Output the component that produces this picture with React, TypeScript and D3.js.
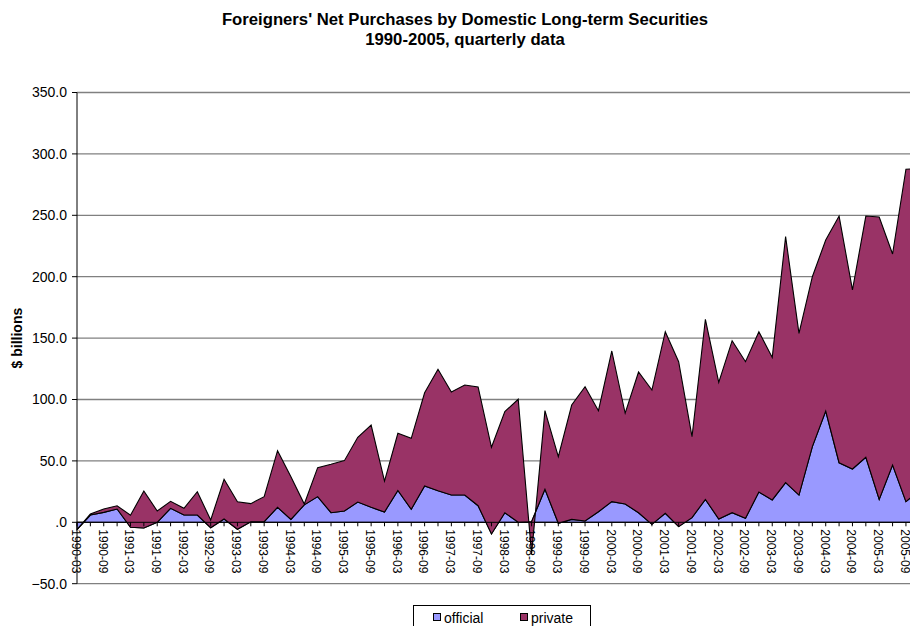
import React, { useRef, useEffect } from "react";
import * as d3 from "d3";

const WIDTH = 910;
const HEIGHT = 626;

// categories
const YEARS = [1990, 1991, 1992, 1993, 1994, 1995, 1996, 1997, 1998, 1999, 2000, 2001, 2002, 2003, 2004, 2005];
const MONTHS = ["03", "06", "09", "12"];
const QUARTERS = YEARS.flatMap((y) => MONTHS.map((m) => `${y}-${m}`));

// $ billions
const OFFICIAL = [
  -6, 5.9, 8.1, 10.8, -4.1, -4.6, 0, 11.4, 5.9, 5.9,
  -4.4, 2.7, -5.7, 0.5, 0.5, 12.2, 2.4, 14.2, 20.9, 7.8,
  9.2, 16.5, 12.2, 8.4, 26, 10.6, 29.6, 25.7, 22.2, 22.2,
  13.5, -9.5, 7.8, 0, 0.5, 26.9, -0.8, 2.4, 1.1, 8.6,
  16.8, 14.9, 7.8, -1.7, 7.3, -3.5, 3.8, 18.7, 2.7, 7.8,
  3.3, 24.7, 18.2, 32.3, 22.2, 61.6, 90.6, 48.5, 43.4, 52.9,
  18.7, 46.7, 16.8, 26,
];
const PRIVATE = [
  0, 0.9, 2.7, 2.7, 9.8, 30.1, 9.2, 5.7, 5.5, 19.0,
  6.3, 32.3, 22.5, 14.7, 20.4, 46.1, 34.7, 0.7, 23.6, 39.4,
  41.0, 52.7, 67.0, 25.2, 46.5, 57.8, 75.9, 98.9, 83.9, 89.6,
  96.7, 70.6, 82.3, 100.2, -26.3, 64.0, 54.2, 93.1, 109.3, 82.3,
  122.7, 73.9, 114.6, 109.4, 147.9, 134.3, 65.9, 146.6, 111.3, 140.1,
  127.5, 130.5, 116.1, 200.3, 131.7, 138.4, 139.3, 200.9, 145.8, 196.5,
  229.9, 171.8, 270.7, 262.0,
];

const SERIES = ["official", "private"];
const COLORS = ["#9999FF", "#993366"];
const Y_TICKS = [-50, 0, 50, 100, 150, 200, 250, 300, 350];

const FONT = "'Liberation Sans', Arial, sans-serif";

export default function App() {
  const svgRef = useRef<SVGSVGElement>(null);

  useEffect(() => {
    document.body.style.margin = "0";
    const svg = d3.select(svgRef.current);
    svg.selectAll("*").remove();

    const left = 77;
    const step = 13.37;
    const x = d3
      .scalePoint<string>()
      .domain(QUARTERS)
      .range([left, left + step * (QUARTERS.length - 1)]);
    const y = d3.scaleLinear().domain([-50, 350]).range([583.7, 92.5]);
    const right = left + step * (QUARTERS.length - 1);

    const rows = QUARTERS.map((q, i) => ({ q, official: OFFICIAL[i], private: PRIVATE[i] }));
    const stacked = d3.stack<any>().keys(SERIES)(rows);

    svg.attr("width", WIDTH).attr("height", HEIGHT).style("font-family", FONT);
    svg.append("rect").attr("width", WIDTH).attr("height", HEIGHT).attr("fill", "#fff");

    // Title
    const title = svg
      .append("text")
      .attr("text-anchor", "middle")
      .attr("font-weight", "bold")
      .attr("font-size", 16.7);
    title.append("tspan").attr("x", 465).attr("y", 25).text("Foreigners' Net Purchases by Domestic Long-term Securities");
    title.append("tspan").attr("x", 465).attr("y", 45).text("1990-2005, quarterly data");

    // gridlines
    svg
      .append("g")
      .selectAll("line")
      .data(Y_TICKS)
      .join("line")
      .attr("x1", left)
      .attr("x2", right)
      .attr("y1", (d) => y(d))
      .attr("y2", (d) => y(d))
      .attr("stroke", "#808080")
      .attr("stroke-width", 1.3);

    // areas
    const area = d3
      .area<any>()
      .x((d) => x(d.data.q)!)
      .y0((d) => y(d[0]))
      .y1((d) => y(d[1]));

    svg
      .append("g")
      .selectAll("path")
      .data(stacked)
      .join("path")
      .attr("d", (d) => area(d))
      .attr("fill", (_, i) => COLORS[i])
      .attr("stroke", "#000")
      .attr("stroke-width", 1.1)
      .attr("stroke-linejoin", "miter");

    // y axis
    svg
      .append("line")
      .attr("x1", left)
      .attr("x2", left)
      .attr("y1", y(350))
      .attr("y2", y(-50))
      .attr("stroke", "#000");
    const yt = svg.append("g").selectAll("g").data(Y_TICKS).join("g");
    yt.append("line")
      .attr("x1", left - 5)
      .attr("x2", left)
      .attr("y1", (d) => y(d))
      .attr("y2", (d) => y(d))
      .attr("stroke", "#000");
    yt.append("text")
      .attr("x", left - 10)
      .attr("y", (d) => y(d))
      .attr("dy", "0.35em")
      .attr("text-anchor", "end")
      .attr("font-size", 14)
      .text((d) => (d === 0 ? ".0" : d3.format(".1f")(d)));

    svg
      .append("text")
      .attr("transform", `translate(22, ${(y(350) + y(-50)) / 2}) rotate(-90)`)
      .attr("text-anchor", "middle")
      .attr("font-weight", "bold")
      .attr("font-size", 14)
      .text("$ billions");

    // category axis at zero
    svg
      .append("line")
      .attr("x1", left)
      .attr("x2", right)
      .attr("y1", y(0))
      .attr("y2", y(0))
      .attr("stroke", "#000");
    svg
      .append("g")
      .selectAll("line")
      .data(QUARTERS)
      .join("line")
      .attr("x1", (d) => x(d)!)
      .attr("x2", (d) => x(d)!)
      .attr("y1", y(0))
      .attr("y2", y(0) + 4)
      .attr("stroke", "#000");
    svg
      .append("g")
      .selectAll("text")
      .data(QUARTERS.filter((_, i) => i % 2 === 0))
      .join("text")
      .attr("transform", (d) => `translate(${x(d)! - 1}, ${y(0) + 7}) rotate(90)`)
      .attr("dy", "0.35em")
      .attr("font-size", 12)
      .text((d) => d);

    // legend
    const lg = svg.append("g");
    lg.append("rect")
      .attr("x", 413.5)
      .attr("y", 605.5)
      .attr("width", 177)
      .attr("height", 30)
      .attr("fill", "#fff")
      .attr("stroke", "#000");
    const items = [
      { name: SERIES[0], color: COLORS[0], x: 433 },
      { name: SERIES[1], color: COLORS[1], x: 520 },
    ];
    const li = lg.selectAll("g.item").data(items).join("g").attr("class", "item");
    li.append("rect")
      .attr("x", (d) => d.x + 0.5)
      .attr("y", 613.5)
      .attr("width", 7)
      .attr("height", 7)
      .attr("fill", (d) => d.color)
      .attr("stroke", "#000");
    li.append("text")
      .attr("x", (d) => d.x + 11)
      .attr("y", 623)
      .attr("font-size", 14)
      .text((d) => d.name);
  }, []);

  return <svg ref={svgRef} style={{ display: "block" }} />;
}
